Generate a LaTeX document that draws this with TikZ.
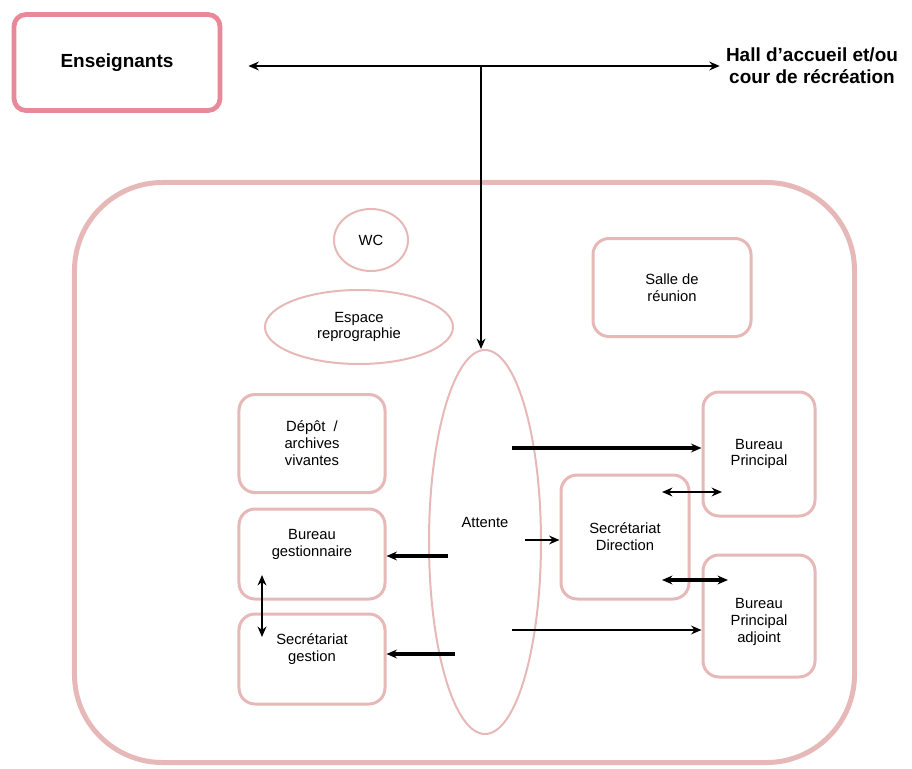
\documentclass[tikz,border=0pt]{standalone}
\usepackage{fontspec}
\setmainfont{Liberation Sans}
\usetikzlibrary{positioning,shapes.geometric,arrows.meta}
\definecolor{rosePale}{HTML}{E6B8B8}
\definecolor{roseVif}{HTML}{E8899A}
\tikzset{>={Stealth[length=2.6mm,width=2.2mm]}}
\tikzstyle{Texte}=[align=center, font=\fontsize{10.5}{12}\selectfont, inner sep=0pt]
\tikzstyle{Piece}=[Texte, rectangle, rounded corners=4mm, draw=rosePale, line width=0.75mm]
\tikzstyle{Zone}=[Texte, ellipse, draw=rosePale, line width=0.5mm]
\tikzstyle{Titre}=[align=center, font=\fontsize{13.5}{15.6}\selectfont\bfseries, inner sep=0pt]
\tikzstyle{Fleche}=[->, line width=0.8mm]
\tikzstyle{FlecheMoy}=[->, line width=0.5mm]
\tikzstyle{FlecheFine}=[->, line width=0.35mm]

\begin{document}
\begin{tikzpicture}[x=0.25mm, y=-0.25mm]
	\useasboundingbox (0,0) rectangle (912,769);
	%Exterieur
	\node[Titre, rectangle, rounded corners=3mm, draw=roseVif, line width=1.2mm, minimum width=51.5mm, minimum height=24mm] (ens) at (117,62.5) {Enseignants};
	\node[Titre] (hall) at (812,66) {Hall d'accueil et/ou\\cour de récréation};

	%Administration
	\node[rectangle, rounded corners=22mm, draw=rosePale, line width=1.25mm, minimum width=195mm, minimum height=145mm] (admin) at (464.5,472.5) {};

	\node[Zone, minimum width=18.5mm, minimum height=15.5mm] (wc) at (371,240) {WC};
	\node[Zone, minimum width=47mm, minimum height=18.5mm] (repro) at (359,327) {Espace\\reprographie};
	\node[Zone, minimum width=28mm, minimum height=96mm, label={[Texte, yshift=5mm]center:Attente}] (attente) at (485,542) {};
	\node[Piece, minimum width=39.5mm, minimum height=24.5mm] (salle) at (672,287.5) {Salle de\\réunion};

	\node[Piece, minimum width=36.5mm, minimum height=24.5mm] (depot) at (312,443.5) {Dépôt~~/\\archives\\vivantes};
	\node[Piece, minimum width=36.5mm, minimum height=22.5mm] (burgest) at (312,554) {Bureau\\gestionnaire\\[1.3mm]};
	\node[Piece, minimum width=36.5mm, minimum height=22.5mm, below=3mm of burgest] (secgest) {Secrétariat\\gestion\\[1.5mm]};

	\node[Piece, minimum width=32mm, minimum height=31mm] (secdir) at (625,537) {Secrétariat\\Direction};
	\node[Piece, minimum width=28mm, minimum height=31mm] (bp) at (759,454) {Bureau\\Principal};
	\node[Piece, minimum width=28mm, minimum height=30.5mm] (bpa) at (759,616) {\rule{0pt}{5.5mm}Bureau\\Principal\\adjoint};

	%Lignes
	\draw[FlecheMoy, <->, shorten <=6.5mm, shorten >=1.5mm] (ens.east |- hall.west) -- (hall.west);
	\coordinate (jonction) at (481,67);
	\draw[FlecheFine] (jonction) -- (attente.north -| jonction);

	\coordinate (a1) at (512,448);
	\coordinate (a2) at (525,540);
	\coordinate (a3) at (512,630);
	\coordinate (a4) at (448,556);
	\coordinate (a5) at (455,654);
	\draw[Fleche] (a1) -- (a1 -| bp.west);
	\draw[FlecheFine] (a2) -- (a2 -| secdir.west);
	\draw[FlecheMoy] (a3) -- (a3 -| bpa.west);
	\draw[Fleche] (a4) -- (a4 -| burgest.east);
	\draw[Fleche] (a5) -- (a5 -| secgest.east);

	\coordinate (g1) at (262,575);
	\coordinate (g2) at (262,637);
	\draw[FlecheMoy, <->] (g1) -- (g2);

	\coordinate (d1) at (662,492);
	\coordinate (d2) at (722,492);
	\coordinate (d3) at (662,580);
	\coordinate (d4) at (728,580);
	\draw[FlecheFine, <->] (d1) -- (d2);
	\draw[Fleche, <->] (d3) -- (d4);
\end{tikzpicture}
\end{document}
